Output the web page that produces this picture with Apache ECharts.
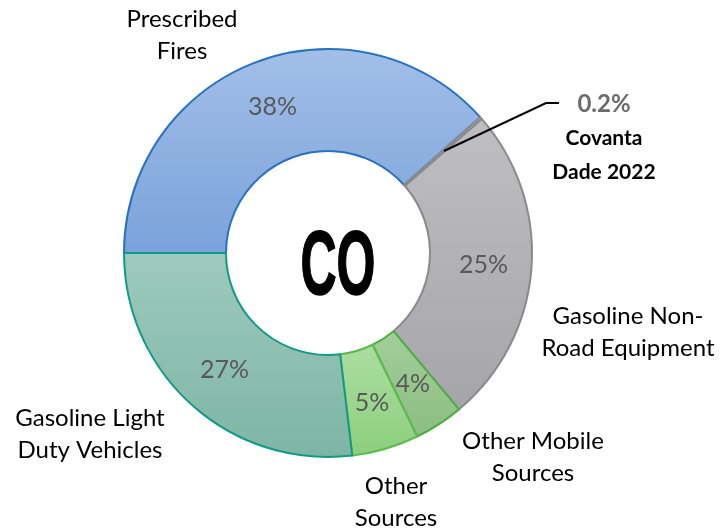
<!DOCTYPE html>
<html>
<head>
<meta charset="utf-8">
<script src="https://cdn.jsdelivr.net/npm/echarts@6/dist/echarts.min.js"></script>
<style>
    html, body { margin: 0; padding: 0; background: #fff; }
    #chartDiv { width: 728px; height: 529px; }
</style>
</head>
<body>
<div id="chartDiv"></div>
<script>
// 数据
var categories = ['Prescribed\nFires', 'Covanta\nDade 2022', 'Gasoline Non-\nRoad Equipment', 'Other Mobile\nSources', 'Other\nSources', 'Gasoline Light\nDuty Vehicles'];
var shares = [38.4, 0.2, 25.3, 3.9, 5.3, 26.9];
var centerText = 'CO';

// 样式
var fills = [
    ['#a2bfe7', '#7aa2db'],
    ['#bfbfc2', '#a7a7ab'],
    ['#bfbfc2', '#a5a5a9'],
    ['#a3ce99', '#8dbd82'],
    ['#acdda1', '#8ccf7d'],
    ['#9ecabd', '#7db5a4']
];
var borders = ['#2a72c0', '#8a8a8e', '#8a8a8e', '#4fad45', '#5bbb4f', '#139a87'];
// 外侧标签位置 (center x, center y)
var namePos = [[182, 35], [604, 138], [628, 332], [533, 457], [396, 502], [90, 434]];
var FONT = 'Lato';

var chart = echarts.init(document.getElementById('chartDiv'), null, { renderer: 'canvas' });

function grad(c) {
    return new echarts.graphic.LinearGradient(0, 0, 0, 1, [
        { offset: 0, color: c[0] },
        { offset: 1, color: c[1] }
    ]);
}

var pieData = shares.map(function(v, i) {
    return {
        name: categories[i],
        value: v,
        itemStyle: { color: grad(fills[i]), borderColor: borders[i], borderWidth: 2 },
        label: { show: i !== 1 }
    };
});

var nameData = shares.map(function(v, i) {
    var item = { name: categories[i], value: v };
    if (i === 1) {
        item.label = {
            formatter: '{p|' + v + '%}\n{n|Covanta}\n{n|Dade 2022}'
        };
    }
    return item;
});

var option = {
    backgroundColor: '#fff',
    animation: false,
    graphic: [{
        type: 'text',
        x: 338, y: 269,
        scaleX: 0.55,
        z: 100,
        style: {
            text: centerText,
            font: 'bold 91px "Liberation Sans"',
            fill: '#000',
            stroke: '#000',
            lineWidth: 1.5,
            align: 'center',
            verticalAlign: 'middle'
        }
    }, {
        // 引导线
        type: 'polyline',
        z: 100,
        shape: { points: [[444, 151], [546, 103], [559, 103]] },
        style: { stroke: '#000', lineWidth: 2, fill: null }
    }],
    series: [{
        type: 'pie',
        center: [328, 253],
        radius: [102, 204],
        startAngle: 180,
        clockwise: true,
        avoidLabelOverlap: false,
        label: {
            show: true,
            position: 'inside',
            fontFamily: FONT,
            fontSize: 25,
            color: '#595959',
            formatter: function(p) { return Math.round(p.value) + '%'; }
        },
        labelLine: { show: false },
        emphasis: { disabled: true },
        data: pieData
    }, {
        type: 'pie',
        center: [328, 253],
        radius: [102, 204],
        startAngle: 180,
        clockwise: true,
        silent: true,
        avoidLabelOverlap: false,
        itemStyle: { color: 'rgba(0,0,0,0)', borderWidth: 0 },
        label: {
            show: true,
            position: 'outside',
            fontFamily: FONT,
            fontSize: 24,
            lineHeight: 32,
            color: '#000',
            align: 'center',
            rich: {
                p: { fontFamily: FONT, fontSize: 24, fontWeight: 'bold', color: '#6b6b6b', lineHeight: 34, align: 'center' },
                n: { fontFamily: FONT, fontSize: 21, fontWeight: 'bold', color: '#000', lineHeight: 34, align: 'center' }
            }
        },
        labelLine: { show: false },
        labelLayout: function(params) {
            var pos = namePos[params.dataIndex];
            return { x: pos[0], y: pos[1], align: 'center', verticalAlign: 'middle' };
        },
        data: nameData
    }]
};

chart.setOption(option);
</script>
</body>
</html>
